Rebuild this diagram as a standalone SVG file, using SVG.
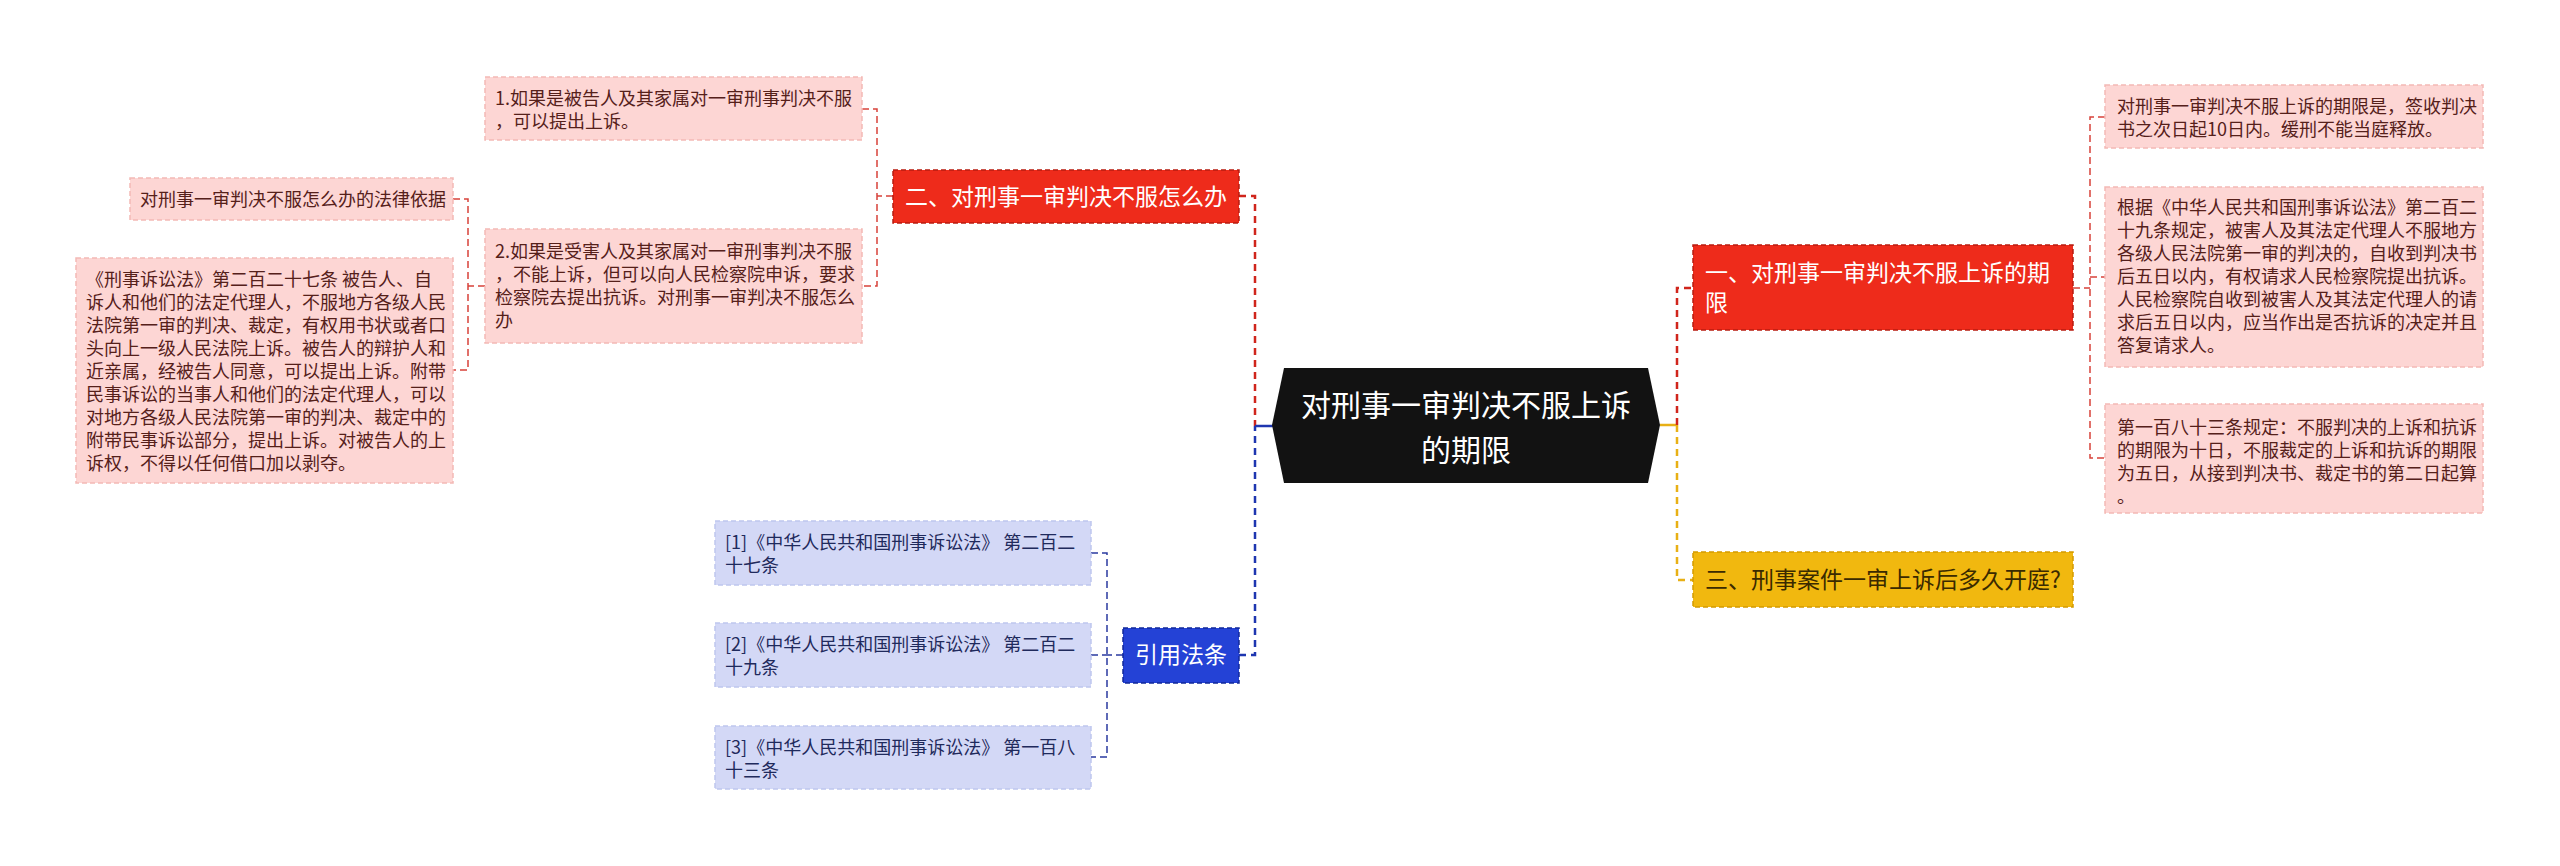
<svg xmlns="http://www.w3.org/2000/svg" width="2560" height="866" viewBox="0 0 2560 866">
<style>
text{font-family:"Noto Sans CJK SC","Noto Sans",sans-serif}
.leaf{fill:#fdd6d4;stroke:#f3b9b5;stroke-width:1.5;stroke-dasharray:5 3}
.lt{font-size:18px;fill:#55201a}
.cite{fill:#d3d8f6;stroke:#bfc6ee;stroke-width:1.5;stroke-dasharray:5 3}
.ct{font-size:18px;fill:#1f2a5c}
.red{fill:#ee2b1b;stroke:#b81c10;stroke-width:1.5;stroke-dasharray:5 3}
.blue{fill:#2442d6;stroke:#10289a;stroke-width:1.5;stroke-dasharray:5 3}
.yel{fill:#f1b80f;stroke:#d39a00;stroke-width:1.5;stroke-dasharray:5 3}
.bt{font-size:23px;fill:#ffffff}
.yt{font-size:23px;fill:#3a2a00}
.cr{fill:none;stroke:#d0251c;stroke-width:2.5;stroke-dasharray:7 5}
.cb{fill:none;stroke:#1e36b0;stroke-width:2.5;stroke-dasharray:7 5}
.cy{fill:none;stroke:#e8b015;stroke-width:2.5;stroke-dasharray:7 5}
.lr{fill:none;stroke:#d8413a;stroke-width:1.5;stroke-dasharray:7 4}
.lb{fill:none;stroke:#2a3aa0;stroke-width:1.5;stroke-dasharray:7 4}
</style>
<rect width="2560" height="866" fill="#ffffff"/>
<g id="connectors">
<path class="cr" d="M1239,196 H1255 V426"/>
<path class="cb" d="M1239,655 H1255 V426"/>
<path d="M1255,426 H1273" fill="none" stroke="#1e36b0" stroke-width="2.5"/>
<path d="M1660,425 H1677" fill="none" stroke="#e8b015" stroke-width="2.5"/>
<path class="cr" d="M1677,425 V288 H1693"/>
<path class="cy" d="M1677,425 V580 H1693"/>
<path class="lr" d="M2073,288 H2090"/>
<path class="lr" d="M2105,117 H2090 V458 H2105"/>
<path class="lr" d="M2090,277 H2105"/>
<path class="lr" d="M893,196 H877"/>
<path class="lr" d="M862,109 H877 V286 H862"/>
<path class="lr" d="M485,286 H468"/>
<path class="lr" d="M453,199 H468 V370 H453"/>
<path class="lb" d="M1123,655 H1107"/>
<path class="lb" d="M1091,553 H1107 V757 H1091"/>
<path class="lb" d="M1091,655 H1107"/>
</g>
<g id="center">
<polygon points="1272,425 1284,368 1648,368 1660,425 1648,483 1284,483" fill="#121212"/>
<text x="1466" y="416" font-size="30" fill="#ffffff" text-anchor="middle">对刑事一审判决不服上诉</text>
<text x="1466" y="461" font-size="30" fill="#ffffff" text-anchor="middle">的期限</text>
</g>
<g id="branch1">
<rect class="red" x="1693" y="245" width="380" height="85"/>
<text class="bt" x="1705" y="281">一、对刑事一审判决不服上诉的期</text>
<text class="bt" x="1705" y="311">限</text>
</g>
<g id="branch3">
<rect class="yel" x="1693" y="552" width="380" height="55"/>
<text class="yt" x="1705" y="588">三、刑事案件一审上诉后多久开庭?</text>
</g>
<g id="branch2">
<rect class="red" x="893" y="170" width="346" height="53"/>
<text class="bt" x="905" y="205">二、对刑事一审判决不服怎么办</text>
</g>
<g id="cites">
<rect class="blue" x="1123" y="628" width="116" height="55"/>
<text class="bt" x="1181" y="663" text-anchor="middle">引用法条</text>
</g>
<g id="leaf-r1">
<rect class="leaf" x="2105" y="85" width="378" height="63"/>
<text class="lt" x="2117" y="113">对刑事一审判决不服上诉的期限是，签收判决</text>
<text class="lt" x="2117" y="136">书之次日起10日内。缓刑不能当庭释放。</text>
</g>
<g id="leaf-r2">
<rect class="leaf" x="2105" y="187" width="378" height="180"/>
<text class="lt" x="2117" y="214">根据《中华人民共和国刑事诉讼法》第二百二</text>
<text class="lt" x="2117" y="237">十九条规定，被害人及其法定代理人不服地方</text>
<text class="lt" x="2117" y="260">各级人民法院第一审的判决的，自收到判决书</text>
<text class="lt" x="2117" y="283">后五日以内，有权请求人民检察院提出抗诉。</text>
<text class="lt" x="2117" y="306">人民检察院自收到被害人及其法定代理人的请</text>
<text class="lt" x="2117" y="329">求后五日以内，应当作出是否抗诉的决定并且</text>
<text class="lt" x="2117" y="352">答复请求人。</text>
</g>
<g id="leaf-r3">
<rect class="leaf" x="2105" y="404" width="378" height="109"/>
<text class="lt" x="2117" y="434">第一百八十三条规定：不服判决的上诉和抗诉</text>
<text class="lt" x="2117" y="457">的期限为十日，不服裁定的上诉和抗诉的期限</text>
<text class="lt" x="2117" y="480">为五日，从接到判决书、裁定书的第二日起算</text>
<text class="lt" x="2117" y="503">。</text>
</g>
<g id="leaf-l1">
<rect class="leaf" x="485" y="77" width="377" height="63"/>
<text class="lt" x="495" y="105">1.如果是被告人及其家属对一审刑事判决不服</text>
<text class="lt" x="495" y="128">，可以提出上诉。</text>
</g>
<g id="leaf-l2">
<rect class="leaf" x="485" y="229" width="377" height="114"/>
<text class="lt" x="495" y="258">2.如果是受害人及其家属对一审刑事判决不服</text>
<text class="lt" x="495" y="281">，不能上诉，但可以向人民检察院申诉，要求</text>
<text class="lt" x="495" y="304">检察院去提出抗诉。对刑事一审判决不服怎么</text>
<text class="lt" x="495" y="327">办</text>
</g>
<g id="leaf-basis">
<rect class="leaf" x="130" y="178" width="323" height="42"/>
<text class="lt" x="140" y="206">对刑事一审判决不服怎么办的法律依据</text>
</g>
<g id="leaf-law">
<rect class="leaf" x="76" y="258" width="377" height="225"/>
<text class="lt" x="86" y="286">《刑事诉讼法》第二百二十七条 被告人、自</text>
<text class="lt" x="86" y="309">诉人和他们的法定代理人，不服地方各级人民</text>
<text class="lt" x="86" y="332">法院第一审的判决、裁定，有权用书状或者口</text>
<text class="lt" x="86" y="355">头向上一级人民法院上诉。被告人的辩护人和</text>
<text class="lt" x="86" y="378">近亲属，经被告人同意，可以提出上诉。附带</text>
<text class="lt" x="86" y="401">民事诉讼的当事人和他们的法定代理人，可以</text>
<text class="lt" x="86" y="424">对地方各级人民法院第一审的判决、裁定中的</text>
<text class="lt" x="86" y="447">附带民事诉讼部分，提出上诉。对被告人的上</text>
<text class="lt" x="86" y="470">诉权，不得以任何借口加以剥夺。</text>
</g>
<g id="cite-1">
<rect class="cite" x="715" y="521" width="376" height="64"/>
<text class="ct" x="725" y="549">[1]《中华人民共和国刑事诉讼法》 第二百二</text>
<text class="ct" x="725" y="572">十七条</text>
</g>
<g id="cite-2">
<rect class="cite" x="715" y="623" width="376" height="64"/>
<text class="ct" x="725" y="651">[2]《中华人民共和国刑事诉讼法》 第二百二</text>
<text class="ct" x="725" y="674">十九条</text>
</g>
<g id="cite-3">
<rect class="cite" x="715" y="726" width="376" height="63"/>
<text class="ct" x="725" y="754">[3]《中华人民共和国刑事诉讼法》 第一百八</text>
<text class="ct" x="725" y="777">十三条</text>
</g>
</svg>
